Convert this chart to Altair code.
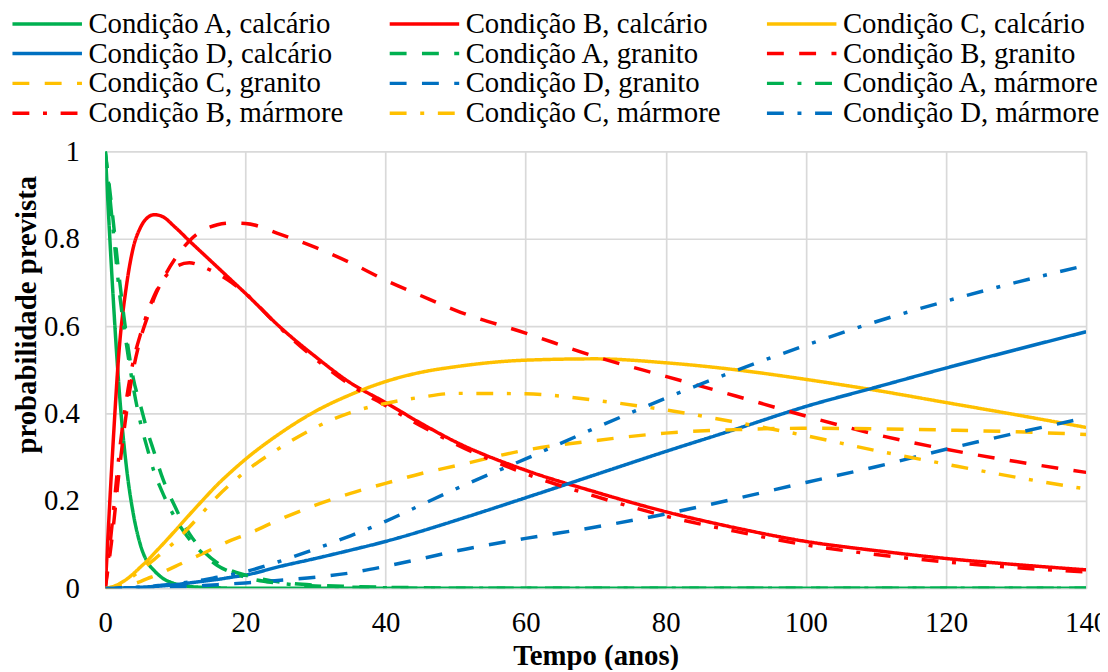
import altair as alt
import pandas as pd

# time grid (anos)
T = [0, 1, 2, 3, 4, 5, 6, 7, 8, 10, 12, 14, 16, 18, 20, 25, 30, 35, 40, 45,
     50, 60, 70, 80, 90, 100, 110, 120, 130, 140]

A_calcario = [1.0, 0.70, 0.45, 0.28, 0.17, 0.10, 0.06, 0.04, 0.025, 0.01, 0.004, 0.002, 0.001, 0, 0,
              0, 0, 0, 0, 0, 0, 0, 0, 0, 0, 0, 0, 0, 0, 0]
B_calcario = [0, 0.30, 0.55, 0.69, 0.78, 0.825, 0.848, 0.855, 0.852, 0.826, 0.795, 0.765, 0.735, 0.705, 0.675,
              0.597, 0.53, 0.47, 0.425, 0.378, 0.335, 0.27, 0.22, 0.175, 0.138, 0.107, 0.086, 0.068, 0.054, 0.042]
C_calcario = [0, 0.003, 0.01, 0.02, 0.033, 0.048, 0.063, 0.08, 0.097, 0.132, 0.168, 0.203, 0.237, 0.267, 0.295,
              0.355, 0.405, 0.443, 0.473, 0.494, 0.507, 0.522, 0.525, 0.516, 0.50, 0.478, 0.453, 0.425, 0.397, 0.368]
D_calcario = [0, 0, 0, 0.001, 0.001, 0.002, 0.003, 0.004, 0.005, 0.008, 0.012, 0.016, 0.02, 0.025, 0.03,
              0.05, 0.068, 0.087, 0.107, 0.13, 0.155, 0.207, 0.26, 0.313, 0.364, 0.416, 0.46, 0.504, 0.546, 0.587]

A_granito = [1.0, 0.86, 0.71, 0.58, 0.48, 0.42, 0.36, 0.31, 0.26, 0.185, 0.125, 0.085, 0.058, 0.04, 0.03,
             0.014, 0.007, 0.004, 0.002, 0.001, 0, 0, 0, 0, 0, 0, 0, 0, 0, 0]
B_granito = [0, 0.12, 0.27, 0.40, 0.50, 0.57, 0.62, 0.665, 0.70, 0.755, 0.795, 0.82, 0.832, 0.836, 0.835,
             0.81, 0.78, 0.745, 0.705, 0.67, 0.636, 0.584, 0.53, 0.485, 0.44, 0.394, 0.352, 0.318, 0.29, 0.265]
C_granito = [0, 0.001, 0.003, 0.006, 0.01, 0.015, 0.022, 0.028, 0.035, 0.05, 0.065, 0.08, 0.095, 0.11, 0.122,
             0.158, 0.19, 0.217, 0.24, 0.262, 0.28, 0.316, 0.338, 0.355, 0.363, 0.366, 0.365, 0.362, 0.358, 0.352]
D_granito = [0, 0, 0, 0, 0.001, 0.001, 0.001, 0.002, 0.002, 0.003, 0.004, 0.006, 0.008, 0.01, 0.012,
             0.018, 0.025, 0.035, 0.05, 0.067, 0.085, 0.114, 0.14, 0.17, 0.205, 0.242, 0.278, 0.318, 0.355, 0.39]

A_marmore = [1.0, 0.84, 0.68, 0.56, 0.46, 0.38, 0.32, 0.265, 0.225, 0.16, 0.112, 0.078, 0.052, 0.036, 0.025,
             0.011, 0.005, 0.002, 0.001, 0, 0, 0, 0, 0, 0, 0, 0, 0, 0, 0]
B_marmore = [0, 0.15, 0.31, 0.43, 0.52, 0.58, 0.63, 0.67, 0.70, 0.735, 0.745, 0.735, 0.72, 0.70, 0.675,
             0.595, 0.525, 0.465, 0.418, 0.372, 0.33, 0.262, 0.21, 0.165, 0.13, 0.099, 0.077, 0.06, 0.047, 0.037]
C_marmore = [0, 0.002, 0.008, 0.017, 0.028, 0.04, 0.053, 0.066, 0.08, 0.107, 0.14, 0.175, 0.21, 0.24, 0.267,
             0.322, 0.368, 0.402, 0.423, 0.437, 0.446, 0.445, 0.43, 0.408, 0.38, 0.349, 0.315, 0.284, 0.254, 0.227]
D_marmore = [0, 0, 0.001, 0.001, 0.002, 0.003, 0.004, 0.005, 0.007, 0.01, 0.014, 0.019, 0.025, 0.031, 0.038,
             0.062, 0.09, 0.12, 0.153, 0.19, 0.227, 0.296, 0.367, 0.435, 0.498, 0.556, 0.61, 0.657, 0.7, 0.739]

series_names = [
    "Condição A, calcário", "Condição B, calcário", "Condição C, calcário",
    "Condição D, calcário", "Condição A, granito", "Condição B, granito",
    "Condição C, granito", "Condição D, granito", "Condição A, mármore",
    "Condição B, mármore", "Condição C, mármore", "Condição D, mármore",
]
series_values = [A_calcario, B_calcario, C_calcario, D_calcario,
                 A_granito, B_granito, C_granito, D_granito,
                 A_marmore, B_marmore, C_marmore, D_marmore]

x_ticks = [0, 20, 40, 60, 80, 100, 120, 140]
y_ticks = [0, 0.2, 0.4, 0.6, 0.8, 1]

colors = ["#00B050", "#FF0000", "#FFC000", "#0070C0"] * 3
dashes = [[1, 0]] * 4 + [[17, 15.5]] * 4 + [[17, 13.75, 4, 13.75]] * 4

rows = []
for name, vals in zip(series_names, series_values):
    for t, p in zip(T, vals):
        rows.append({"t": t, "p": p, "serie": name})
df = pd.DataFrame(rows)

FONT = "Liberation Serif"

legend = alt.Legend(
    title=None, orient="none", direction="horizontal", legendX=-101, legendY=-143,
    columns=3, gridAlign="all", columnPadding=37, rowPadding=0, padding=0,
    symbolType="M-1,0H9", symbolSize=196, symbolStrokeWidth=3.5,
    labelFont=FONT, labelFontSize=29, labelColor="#000000",
    labelOffset=55, labelLimit=500,
)

chart = alt.Chart(df).mark_line(strokeWidth=3.5, interpolate="monotone", clip=True).encode(
    x=alt.X("t:Q", scale=alt.Scale(domain=[0, 140], nice=False),
            axis=alt.Axis(values=x_ticks, title="Tempo (anos)", titleY=77,
                          titleBaseline="alphabetic", labelPadding=21, labelFlush=False)),
    y=alt.Y("p:Q", scale=alt.Scale(domain=[0, 1], nice=False),
            axis=alt.Axis(values=y_ticks, format=".1~f", title="probabilidade prevista",
                          titleX=-79, titleY=164, titleAngle=270, titleAlign="center",
                          titleBaseline="middle", labelPadding=26)),
    color=alt.Color("serie:N", sort=series_names,
                    scale=alt.Scale(domain=series_names, range=colors), legend=legend),
    strokeDash=alt.StrokeDash("serie:N", sort=series_names,
                              scale=alt.Scale(domain=series_names, range=dashes), legend=legend),
).properties(
    width=988, height=440, autosize="none",
    padding={"left": 98, "top": 142, "right": 14, "bottom": 80},
).configure(
    font=FONT,
).configure_axis(
    grid=True, gridColor="#D9D9D9", gridWidth=1.7, domain=False, ticks=False,
    labelFont=FONT, labelFontSize=29, labelColor="#000000",
    titleFont=FONT, titleFontSize=29, titleFontWeight="bold", titleColor="#000000",
).configure_view(stroke=None)

chart.save("out.html", embed_options={"renderer": "svg", "actions": False})
